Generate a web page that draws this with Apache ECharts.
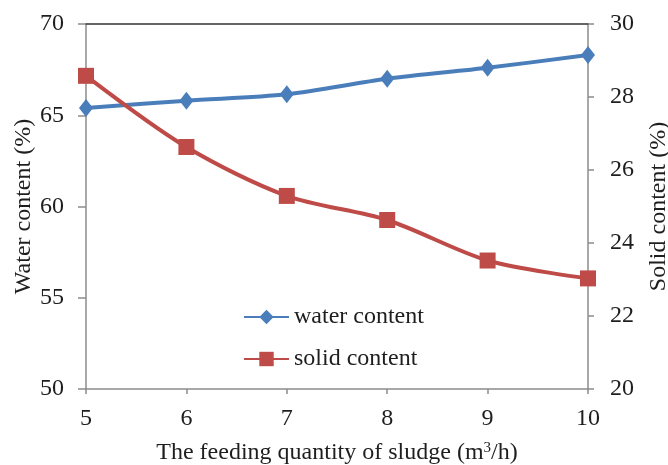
<!DOCTYPE html>
<html>
<head>
<meta charset="utf-8">
<script src="https://cdn.jsdelivr.net/npm/echarts@6/dist/echarts.min.js"></script>
<style>html,body{margin:0;padding:0;background:#fff;overflow:hidden}#c{width:668px;height:465px}</style>
</head>
<body>
<div id="c"></div>
<script>
const feed = [5, 6, 7, 8, 9, 10];
const waterContent = [65.4, 65.8, 66.15, 67.0, 67.6, 68.3];
const solidContent = [28.58, 26.63, 25.29, 24.63, 23.52, 23.03];
const leftTicks = [50, 70, 5];
const rightTicks = [20, 30, 2];

const font = 'Liberation Serif';
const txt = '#1e1e1e';
const axisGray = '#8c8c8c';
const fs = 24;

const chart = echarts.init(document.getElementById('c'));
chart.setOption({
  animation: false,
  grid: { left: 86, right: 80, top: 24, bottom: 76, outerBoundsMode: 'none', containLabel: false },
  legend: {
    orient: 'vertical', left: 238, top: 300, itemGap: 18,
    itemWidth: 45, itemHeight: 18,
    textStyle: { fontFamily: font, fontSize: fs, color: txt, lineHeight: 24 },
    data: ['water content', 'solid content']
  },
  xAxis: [{
    type: 'value', min: 5, max: 10, interval: 1,
    name: 'The feeding quantity of sludge (m{sup|3}/h)',
    nameLocation: 'middle', nameGap: 52, nameMoveOverlap: false,
    nameTextStyle: {
      fontFamily: font, fontSize: fs, color: txt,
      rich: { sup: { fontFamily: font, fontSize: 15, color: txt, verticalAlign: 'top', padding: [0, 0, 8, 0] } }
    },
    axisLine: { show: true, lineStyle: { color: axisGray, width: 1.5 } },
    axisTick: { show: true, length: 5, lineStyle: { color: axisGray, width: 1.5 } },
    axisLabel: { fontFamily: font, fontSize: fs, color: txt, margin: 18 },
    splitLine: { show: false }
  }, {
    type: 'value', position: 'top', min: 5, max: 10,
    axisLine: { show: true, lineStyle: { color: '#333', width: 1.5 } },
    axisTick: { show: false }, axisLabel: { show: false }, splitLine: { show: false }
  }],
  yAxis: [{
    type: 'value', min: leftTicks[0], max: leftTicks[1], interval: leftTicks[2],
    name: 'Water content (%)', nameLocation: 'middle', nameGap: 50, nameRotate: 90,
    nameMoveOverlap: false,
    nameTextStyle: { fontFamily: font, fontSize: fs, color: txt },
    axisLine: { show: true, lineStyle: { color: axisGray, width: 1.5 } },
    axisTick: { show: true, length: 8, lineStyle: { color: axisGray, width: 1.5 } },
    axisLabel: { fontFamily: font, fontSize: fs, color: txt, margin: 22 },
    splitLine: { show: false }
  }, {
    type: 'value', position: 'right', min: rightTicks[0], max: rightTicks[1], interval: rightTicks[2],
    name: 'Solid content (%)', nameLocation: 'middle', nameGap: 59, nameRotate: 90,
    nameMoveOverlap: false,
    nameTextStyle: { fontFamily: font, fontSize: fs, color: txt },
    axisLine: { show: true, lineStyle: { color: axisGray, width: 1.5 } },
    axisTick: { show: true, length: 6, lineStyle: { color: axisGray, width: 1.5 } },
    axisLabel: { fontFamily: font, fontSize: fs, color: txt, margin: 22 },
    splitLine: { show: false }
  }],
  series: [{
    name: 'water content', type: 'line', xAxisIndex: 0, yAxisIndex: 0,
    data: feed.map((x, i) => [x, waterContent[i]]),
    smooth: 0.3, symbol: 'diamond', symbolSize: [14, 18],
    lineStyle: { color: '#4a7ebb', width: 4 },
    itemStyle: { color: '#4a7ebb' }
  }, {
    name: 'solid content', type: 'line', xAxisIndex: 0, yAxisIndex: 1,
    data: feed.map((x, i) => [x, solidContent[i]]),
    smooth: 0.3, symbol: 'rect', symbolSize: 16,
    lineStyle: { color: '#be4b48', width: 4 },
    itemStyle: { color: '#be4b48' }
  }]
});
</script>
</body>
</html>
